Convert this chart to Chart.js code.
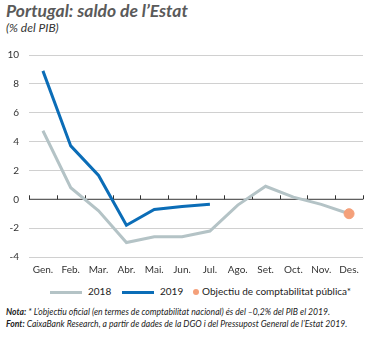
<!DOCTYPE html>
<html>
<head>
<meta charset="utf-8">
<script src="https://cdn.jsdelivr.net/npm/chart.js@4/dist/chart.umd.min.js"></script>
<style>
  body { margin: 0; width: 374px; height: 338px; background: #fff; font-family: Lato, sans-serif; position: relative; overflow: hidden; }
  .title { position: absolute; left: 6px; top: 0px; font-size: 17.5px; font-weight: bold; font-style: italic; color: #5a5a5a; }
  .sub { position: absolute; left: 6px; top: 20px; font-size: 12px; font-style: italic; color: #333; }
  .wrap { position: absolute; left: 0; top: 39px; width: 374px; height: 244px; }
  .legend { position: absolute; top: 285px; left: 0; width: 374px; font-size: 10px; color: #222; }
  .legend span { position: absolute; top: 0; }
  .ln { display: inline-block; height: 3px; width: 32px; position: absolute; top: 6px; }
  .dot { display: inline-block; width: 6px; height: 6px; border-radius: 3px; background: #f4a07a; position: absolute; top: 4px; }
  .note { position: absolute; left: 6px; font-size: 8.6px; font-style: italic; color: #222; white-space: nowrap; }
  .note b { font-weight: bold; }
</style>
</head>
<body>
<div class="title">Portugal: saldo de l’Estat</div>
<div class="sub">(% del PIB)</div>
<div class="wrap"><canvas id="chart"></canvas></div>
<div class="legend">
  <i class="ln" style="left:50px;background:#b4c3c6"></i><span style="left:88px">2018</span>
  <i class="ln" style="left:122px;background:#0b6db7"></i><span style="left:160px">2019</span>
  <i class="dot" style="left:193px"></i><span style="left:202px">Objectiu de comptabilitat pública*</span>
</div>
<div class="note" style="top:307px"><b>Nota:</b> * L’objectiu oficial (en termes de comptabilitat nacional) és del –0,2% del PIB el 2019.</div>
<div class="note" style="top:319px"><b>Font:</b> CaixaBank Research, a partir de dades de la DGO i del Pressupost General de l’Estat 2019.</div>
<script>
const months = ['Gen.', 'Feb.', 'Mar.', 'Abr.', 'Mai.', 'Jun.', 'Jul.', 'Ago.', 'Set.', 'Oct.', 'Nov.', 'Des.'];
const saldo2018 = [4.75, 0.8, -0.8, -3.0, -2.6, -2.6, -2.2, -0.4, 0.9, 0.15, -0.35, -1.0];
const saldo2019 = [8.9, 3.7, 1.65, -1.8, -0.7, -0.5, -0.35, null, null, null, null, null];
const objectiu = [null, null, null, null, null, null, null, null, null, null, null, -1.0];
const yTicks = [10, 8, 6, 4, 2, 0, -2, -4];

// zero line with tick marks between months
const zeroAxis = {
    id: 'zeroAxis',
    beforeDatasetsDraw(chart) {
        const { ctx, chartArea, scales } = chart;
        const y0 = scales.y.getPixelForValue(0);
        const step = (chartArea.right - chartArea.left) / months.length;
        ctx.save();
        ctx.strokeStyle = '#333';
        ctx.lineWidth = 1;
        ctx.beginPath();
        ctx.moveTo(chartArea.left, y0);
        ctx.lineTo(chartArea.right, y0);
        for (let i = 0; i <= months.length; i++) {
            const x = Math.round(chartArea.left + i * step) + 0.5;
            ctx.moveTo(x, y0);
            ctx.lineTo(x, y0 - 4);
        }
        ctx.stroke();
        ctx.restore();
    }
};

new Chart(document.getElementById('chart'), {
    type: 'line',
    data: {
        labels: months,
        datasets: [
            { label: 'Objectiu', data: objectiu, borderColor: '#f4a07a', backgroundColor: '#f4a07a', pointRadius: 5, showLine: false },
            { label: '2019', data: saldo2019, borderColor: '#0b6db7', borderWidth: 3, pointRadius: 0, tension: 0 },
            { label: '2018', data: saldo2018, borderColor: '#b4c3c6', borderWidth: 3, pointRadius: 0, tension: 0 }
        ]
    },
    options: {
        responsive: true, maintainAspectRatio: false, animation: false,
        layout: { padding: { top: 12, right: 11, left: 0, bottom: 0 } },
        plugins: { legend: { display: false }, tooltip: { enabled: false } },
        scales: {
            x: {
                offset: true,
                grid: { display: false, drawTicks: false },
                border: { display: false },
                ticks: { color: '#333', font: { family: 'Lato', size: 10 }, padding: 7, maxRotation: 0, autoSkip: false }
            },
            y: {
                min: -4, max: 10,
                afterBuildTicks: s => { s.ticks = yTicks.map(v => ({ value: v })); },
                afterFit: s => { s.width = 29; },
                grid: { color: c => c.tick && c.tick.value === 0 ? 'rgba(0,0,0,0)' : '#d0d0d0', drawTicks: false },
                border: { display: false },
                ticks: { color: '#333', font: { family: 'Lato', size: 10 }, padding: 10 }
            }
        }
    },
    plugins: [zeroAxis]
});
</script>
</body>
</html>
